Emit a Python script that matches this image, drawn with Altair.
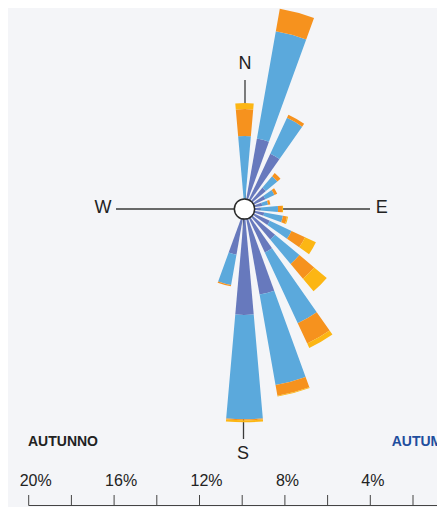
import altair as alt
import pandas as pd

# ---- data (percent frequencies per direction, by speed class) ----
directions = [0, 15, 30, 45, 60, 75, 90, 105, 120, 135, 150, 165, 180, 195]
classes = ["c1", "c2", "c3", "c4"]
dark_blue = [0.0, 3.35, 2.86, 1.31, 1.08, 0.84, 0.75, 0.94, 1.31, 1.87, 2.25, 4.07, 4.96, 2.17]
light_blue = [3.42, 5.10, 1.85, 0.70, 0.47, 0.28, 0.82, 0.89, 1.12, 1.49, 3.65, 4.30, 4.89, 1.44]
orange = [1.26, 1.07, 0.16, 0.19, 0.14, 0.11, 0.19, 0.19, 0.70, 0.90, 1.05, 0.51, 0.05, 0.07]
yellow = [0.28, 0.0, 0.0, 0.0, 0.0, 0.0, 0.05, 0.05, 0.56, 0.77, 0.23, 0.04, 0.09, 0.0]
class_colors = ["#6779bd", "#5ba9dc", "#f6921e", "#fcb614"]

axis_ticks = [20, 18, 16, 14, 12, 10, 8, 6, 4, 2, 0]
axis_labels = [20, 16, 12, 8, 4]
compass = ["N", "S", "W", "E"]
season_it = "AUTUNNO"
season_en = "AUTUMN"

# ---- build stacked table ----
rows = []
series = [dark_blue, light_blue, orange, yellow]
for i, d in enumerate(directions):
    cum = 0.0
    for c, vals in zip(classes, series):
        v = vals[i]
        if v > 0:
            rows.append({"dir": d, "t0": d - 5, "t1": d + 5, "r0": cum, "r1": cum + v, "cls": c})
        cum += v
rose_df = pd.DataFrame(rows)

W, H = 429, 499
CX, CY = 236.5, 201.0

rose = alt.Chart(rose_df).mark_arc(stroke="transparent", strokeWidth=0).encode(
    theta=alt.Theta("t0:Q", scale=alt.Scale(domain=[0, 360], range=[0, 6.283185307]), stack=False),
    theta2="t1:Q",
    radius=alt.Radius("r0:Q", scale=alt.Scale(type="linear", domain=[0, 10], range=[0, 213.5], zero=True), stack=False),
    radius2="r1:Q",
    color=alt.Color("cls:N", scale=alt.Scale(domain=classes, range=class_colors), legend=None),
    x=alt.value(CX),
    y=alt.value(CY),
)

line_color = "#3a3a3a"
w_line = alt.Chart().mark_rule(color=line_color, strokeWidth=1.3).encode(
    x=alt.value(108), x2=alt.value(CX), y=alt.value(CY))
e_line = alt.Chart().mark_rule(color=line_color, strokeWidth=1.3).encode(
    x=alt.value(CX), x2=alt.value(362), y=alt.value(CY))
n_line = alt.Chart().mark_rule(color=line_color, strokeWidth=1.3).encode(
    x=alt.value(237), y=alt.value(72), y2=alt.value(CY))
s_line = alt.Chart().mark_rule(color=line_color, strokeWidth=1.3).encode(
    x=alt.value(235.5), y=alt.value(CY), y2=alt.value(431))

center = alt.Chart().mark_point(shape="circle", filled=True, fill="white", stroke="#2a2a2a",
                                strokeWidth=1.5, size=410, opacity=1).encode(
    x=alt.value(CX), y=alt.value(CY))

comp_df = pd.DataFrame({"lab": compass, "px": [237, 235, 95, 373.7], "py": [55.7, 445.8, 200.3, 199.7]})
comp_text = alt.Chart(comp_df).mark_text(fontSize=18, font="Liberation Sans", color="#222222",
                                          baseline="middle", align="center").encode(
    text="lab:N",
    x=alt.X("px:Q", scale=alt.Scale(domain=[0, W], range=[0, W]), axis=None),
    y=alt.Y("py:Q", scale=alt.Scale(domain=[0, H], range=[0, H]), axis=None),
)

title_it = alt.Chart().mark_text(text=season_it, fontSize=14, fontWeight="bold", font="Liberation Sans",
                                 color="#222222", align="left", baseline="middle").encode(
    x=alt.value(20), y=alt.value(434))
title_en = alt.Chart().mark_text(text=season_en, fontSize=14, fontWeight="bold", font="Liberation Sans",
                                 color="#1f4e9e", align="left", baseline="middle").encode(
    x=alt.value(383.7), y=alt.value(434))

xscale = alt.Scale(domain=[0, 20], range=[447.7, 20.7], nice=False, zero=False)
tick_df = pd.DataFrame({"v": axis_ticks})
ticks = alt.Chart(tick_df).mark_rule(color="#444444", strokeWidth=1).encode(
    x=alt.X("v:Q", scale=xscale, axis=None), y=alt.value(487), y2=alt.value(497.5))
base_df = pd.DataFrame({"lo": [max(axis_ticks)], "hi": [min(axis_ticks)]})
baseline = alt.Chart(base_df).mark_rule(color="#444444", strokeWidth=1).encode(
    x=alt.X("lo:Q", scale=xscale, axis=None), x2="hi:Q", y=alt.value(497.5))
lab_df = pd.DataFrame({"v": axis_labels, "t": [f"{v}%" for v in axis_labels]})
labels = alt.Chart(lab_df).mark_text(fontSize=16, font="Liberation Sans", color="#222222",
                                      align="left", baseline="middle", dx=-9).encode(
    x=alt.X("v:Q", scale=xscale, axis=None), y=alt.value(472.7), text="t:N")

chart = alt.layer(
    w_line, e_line, n_line, s_line, rose, center, comp_text, title_it, title_en, ticks, baseline, labels
).resolve_scale(x="independent", y="independent").properties(
    width=W, height=H, padding=0,
    autosize=alt.AutoSizeParams(type="none"),
    background="#f4f5f8",
).configure_view(stroke="transparent")

chart.save("out.html", embed_options={"renderer": "svg", "actions": False})
